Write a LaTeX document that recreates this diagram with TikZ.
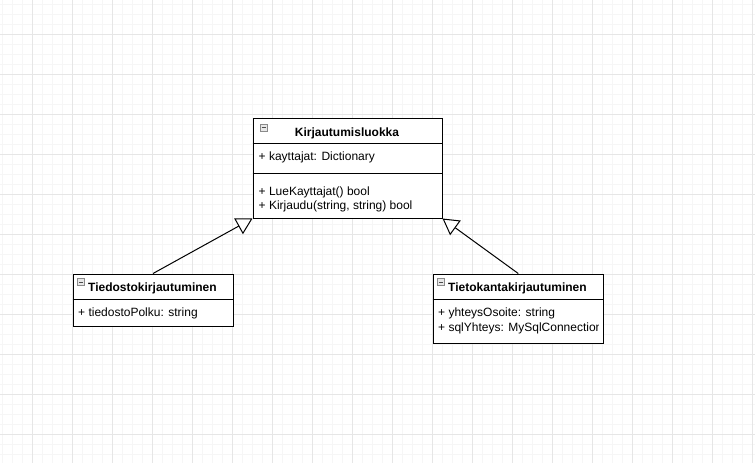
\documentclass[tikz,border=0pt]{standalone}
\usepackage{fontspec}
\setmainfont{Liberation Sans}
\usetikzlibrary{arrows.meta}
\definecolor{gminor}{HTML}{F6F6F6}
\definecolor{gmajor}{HTML}{E6E6E6}
\definecolor{icobrd}{HTML}{8A8A8A}
\definecolor{icofill}{HTML}{E8E8E8}
\begin{document}
\begin{tikzpicture}[x=1pt,y=-1pt,
  classbox/.style={draw=black, line width=1pt, fill=white, rectangle, inner sep=0pt, anchor=north west},
  sepline/.style={draw=black, line width=1pt},
  txt/.style={inner sep=0pt, anchor=base west, font=\fontsize{12}{14}\selectfont},
  hdr/.style={inner sep=0pt, font=\fontsize{12}{14}\selectfont\bfseries},
  icon/.style={draw=icobrd, fill=icofill, line width=0.8pt},
  iconminus/.style={draw=black!70, line width=1pt},
  inherit/.style={draw=black, line width=1pt, -{Triangle[open, length=16pt, width=18pt, fill=white]}},
  gridminor/.style={draw=gminor, line width=1pt},
  gridmajor/.style={draw=gmajor, line width=1pt}
]
\useasboundingbox (0,0) rectangle (755,463);
\fill[white] (0,0) rectangle (755,463);
% grid
\foreach \x in {2.5,12.5,...,752.5} \draw[gridminor] (\x,0) -- (\x,463);
\foreach \y in {4.5,14.5,...,460} \draw[gridminor] (0,\y) -- (755,\y);
\foreach \x in {32.5,72.5,...,752.5} \draw[gridmajor] (\x,0) -- (\x,463);
\foreach \y in {34.5,74.5,...,460} \draw[gridmajor] (0,\y) -- (755,\y);

% parent class
\node[classbox, minimum width=189pt, minimum height=100pt] (parent) at (252.5,117.5) {};
\draw[sepline] (252.5,143.5) -- (441.5,143.5);
\draw[sepline] (252.5,173.5) -- (441.5,173.5);
\draw[icon] (260,124) rectangle (267,131);
\draw[iconminus] (261.5,127.5) -- (265.5,127.5);
\node[hdr, anchor=base] (ptitle) at (347,136.7) {Kirjautumisluokka};
\node[txt] (pa1) at (258.5,160.3) {+ kayttajat: Dictionary};
\node[txt] (pm1) at (258.5,195.5) {+ LueKayttajat() bool};
\node[txt] (pm2) at (258.5,209.2) {+ Kirjaudu(string, string) bool};

% left child
\node[classbox, minimum width=160pt, minimum height=52pt] (lchild) at (72.5,273.5) {};
\draw[sepline] (72.5,299.5) -- (232.5,299.5);
\draw[icon] (77.5,278.5) rectangle (84.5,285.5);
\draw[iconminus] (79,282) -- (83,282);
\node[hdr, anchor=base west] (ltitle) at (88,291.7) {Tiedostokirjautuminen};
\node[txt] (la1) at (78,316.7) {+ tiedostoPolku: string};

% right child
\node[classbox, minimum width=170.5pt, minimum height=69.5pt] (rchild) at (432.5,273.5) {};
\draw[sepline] (432.5,299.5) -- (603,299.5);
\draw[icon] (437.5,278.5) rectangle (444.5,285.5);
\draw[iconminus] (439,282) -- (443,282);
\node[hdr, anchor=base west] (rtitle) at (448,291.7) {Tietokantakirjautuminen};
\node[txt] (ra1) at (438,316.7) {+ yhteysOsoite: string};
\begin{scope}
\clip (433,300) rectangle (598,342);
\node[txt] (ra2) at (438,331.7) {+ sqlYhteys: MySqlConnection};
\end{scope}

% inheritance
\draw[inherit] (lchild.north) -- (parent.south west);
\draw[inherit] (rchild.north) -- (parent.south east);
\end{tikzpicture}
\end{document}
